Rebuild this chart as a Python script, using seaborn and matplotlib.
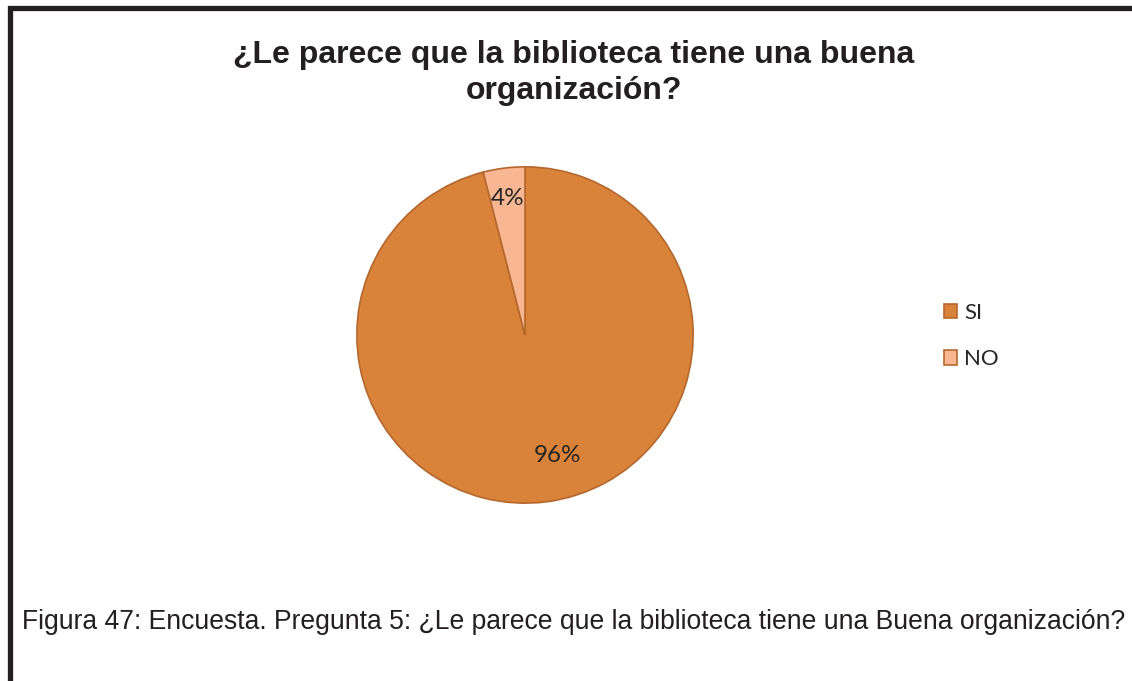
import matplotlib
matplotlib.use("Agg")
import numpy as np
import matplotlib.pyplot as plt
import seaborn as sns
from matplotlib import font_manager
from matplotlib.font_manager import FontProperties
from matplotlib.patches import Rectangle

# datos de la encuesta
categorias = ["SI", "NO"]
porcentajes = [96, 4]
colores = ["#D9823A", "#F8B692"]
titulo = "¿Le parece que la biblioteca tiene una buena\norganización?"
leyenda_pie = "Figura 47: Encuesta. Pregunta 5: ¿Le parece que la biblioteca tiene una Buena organización?"

sns.set_theme(style="white")
plt.rcParams["font.family"] = ["Liberation Sans", "DejaVu Sans"]


def buscar_fuente(nombre, negrita=False):
    # busca el archivo regular/negrita (no Narrow, no cursiva) de la familia
    for f in font_manager.fontManager.ttflist:
        if f.name != nombre or f.style != "normal":
            continue
        peso = f.weight if isinstance(f.weight, int) else {"normal": 400, "regular": 400, "bold": 700}.get(str(f.weight), 0)
        if (negrita and peso == 700) or (not negrita and peso == 400):
            return f.fname
    return None


def fuente(nombre, size, negrita=False):
    ruta = buscar_fuente(nombre, negrita)
    if ruta:
        return FontProperties(fname=ruta, size=size)
    return FontProperties(family=nombre, size=size,
                          weight="bold" if negrita else "normal")


W, H = 1132, 681
fig = plt.figure(figsize=(W / 100, H / 100), dpi=100)
fig.patch.set_facecolor("white")

# marco negro (solo se ven el borde izquierdo y el superior)
fig.patches.append(Rectangle((9.5 / W, -0.2), 1.5, 1.2 - 7.5 / H,
                             transform=fig.transFigure, fill=False,
                             edgecolor="#231F20", linewidth=3.8))

# grafico de torta
cx, cy, r = 525, 335, 169
ax = fig.add_axes([(cx - r) / W, (H - cy - r) / H, 2 * r / W, 2 * r / H])
cunas, _, textos = ax.pie(porcentajes, colors=colores, startangle=90,
                          counterclock=False, autopct="%.0f%%",
                          pctdistance=0.8,
                          wedgeprops=dict(edgecolor="#B5682E", linewidth=1.2))

# distancia de cada etiqueta al centro (como en Excel) y giro leve
dist_etiquetas = [0.74, 0.82]
giro_etiquetas = [8, 0]
for cuna, t, d, g in zip(cunas, textos, dist_etiquetas, giro_etiquetas):
    ang = np.deg2rad((cuna.theta1 + cuna.theta2) / 2 + g)
    t.set_position((d * np.cos(ang), d * np.sin(ang)))
    t.set_fontproperties(fuente("Lato", 17.5))
    t.set_color("#262626")
ax.set_xlim(-1.005, 1.005)
ax.set_ylim(-1.005, 1.005)
ax.set_aspect("equal")

# titulo
fig.text(574 / W, 1 - 73 / H, titulo, ha="center", va="center",
         fontproperties=fuente("Liberation Sans", 23, negrita=True),
         color="#231F20", linespacing=1.22)

# leyenda
fig.legend(cunas, categorias, loc="center left",
           bbox_to_anchor=(924 / W, 1 - 336 / H), frameon=False,
           prop=fuente("Lato", 16),
           handlelength=0.6, handleheight=0.6, handletextpad=0.3,
           labelspacing=1.2, labelcolor="#262626")

# pie de figura
fig.text(22 / W, 1 - 622 / H, leyenda_pie, ha="left", va="center",
         fontproperties=fuente("Liberation Sans", 19.1), color="#231F20")

fig.savefig("out.png", dpi=100, facecolor="white")
